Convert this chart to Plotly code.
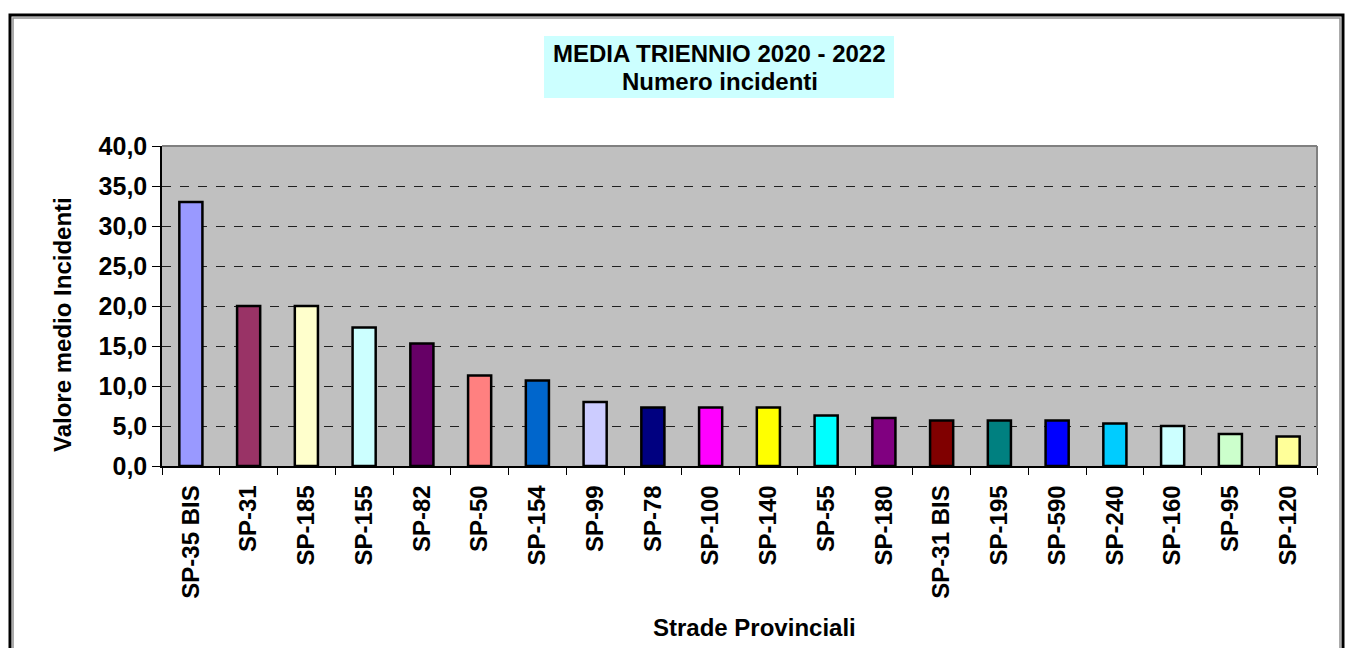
import plotly.graph_objects as go

# Average number of accidents per provincial road, 2020-2022
strade = ["SP-35 BIS", "SP-31", "SP-185", "SP-155", "SP-82", "SP-50", "SP-154",
          "SP-99", "SP-78", "SP-100", "SP-140", "SP-55", "SP-180", "SP-31 BIS",
          "SP-195", "SP-590", "SP-240", "SP-160", "SP-95", "SP-120"]
media_incidenti = [33.0, 20.0, 20.0, 17.3, 15.3, 11.3, 10.7, 8.0, 7.3, 7.3,
                   7.3, 6.3, 6.0, 5.7, 5.7, 5.7, 5.3, 5.0, 4.0, 3.7]
colori = ["#9999FF", "#993366", "#FFFFCC", "#CCFFFF", "#660066", "#FF8080",
          "#0066CC", "#CCCCFF", "#000080", "#FF00FF", "#FFFF00", "#00FFFF",
          "#800080", "#800000", "#008080", "#0000FF", "#00CCFF", "#CCFFFF",
          "#CCFFCC", "#FFFF99"]
y_ticks = [0, 5, 10, 15, 20, 25, 30, 35, 40]

W, H = 1349, 648
L, R, T, B = 162, 32, 146, 182
pw, ph = W - L - R, H - T - B


def px(x):
    return (x - L) / pw


def py(y):
    return (H - B - y) / ph


FONT = "Liberation Sans, Arial, sans-serif"

fig = go.Figure(go.Bar(
    x=strade, y=media_incidenti,
    marker=dict(color=colori, line=dict(color="black", width=2.5)),
    width=0.4,
))

fig.update_layout(
    width=W, height=H,
    margin=dict(l=L, r=R, t=T, b=B),
    paper_bgcolor="white",
    plot_bgcolor="#C0C0C0",
    separators=",.",
    showlegend=False,
    font=dict(family=FONT, color="black"),
)

fig.update_xaxes(
    type="category",
    tickson="boundaries",
    ticks="outside", ticklen=7, tickcolor="black", tickwidth=1,
    tickangle=-90,
    ticklabelstandoff=8,
    tickfont=dict(family=FONT, size=24, color="black", weight="bold"),
    showline=True, linecolor="black", linewidth=1.5,
    showgrid=False,
    mirror=False,
)

fig.update_yaxes(
    range=[0, 40],
    tickvals=y_ticks,
    tickformat=".1f",
    ticks="outside", ticklen=8, tickcolor="black", tickwidth=1,
    tickfont=dict(family=FONT, size=25, color="black", weight="bold"),
    showline=True, linecolor="black", linewidth=1.5,
    showgrid=True, gridcolor="#202020", gridwidth=1, griddash="dash",
    zeroline=False,
)

shapes = [
    # plot area border (top and right)
    dict(type="line", xref="paper", yref="paper", x0=0, x1=1, y0=1, y1=1,
         line=dict(color="#808080", width=2)),
    dict(type="line", xref="paper", yref="paper", x0=1, x1=1, y0=0, y1=1,
         line=dict(color="#808080", width=2)),
    # outer frame of the chart
    dict(type="rect", xref="paper", yref="paper",
         x0=px(10), x1=px(1343), y0=py(15), y1=py(700),
         line=dict(color="black", width=3), layer="above"),
    dict(type="rect", xref="paper", yref="paper",
         x0=px(13), x1=px(1340), y0=py(18), y1=py(700),
         line=dict(color="#909090", width=1.5), layer="above"),
    # title box
    dict(type="rect", xref="paper", yref="paper",
         x0=px(544), x1=px(894), y0=py(36), y1=py(98),
         fillcolor="#CCFFFF", line=dict(width=0), layer="below"),
]

annotations = [
    dict(text="<b>MEDIA TRIENNIO 2020 - 2022</b>", xref="paper", yref="paper",
         x=px(719), y=py(53.5), showarrow=False, xanchor="center", yanchor="middle",
         font=dict(family=FONT, size=24, color="black")),
    dict(text="<b>Numero incidenti</b>", xref="paper", yref="paper",
         x=px(720), y=py(81), showarrow=False, xanchor="center", yanchor="middle",
         font=dict(family=FONT, size=24, color="black")),
    dict(text="<b>Strade Provinciali</b>", xref="paper", yref="paper",
         x=px(754), y=py(627), showarrow=False, xanchor="center", yanchor="middle",
         font=dict(family=FONT, size=24, color="black")),
    dict(text="<b>Valore medio Incidenti</b>", xref="paper", yref="paper",
         x=px(62), y=py(325), showarrow=False, xanchor="center", yanchor="middle",
         textangle=-90,
         font=dict(family=FONT, size=24, color="black")),
]

fig.update_layout(shapes=shapes, annotations=annotations)

fig.write_html("out.html")
